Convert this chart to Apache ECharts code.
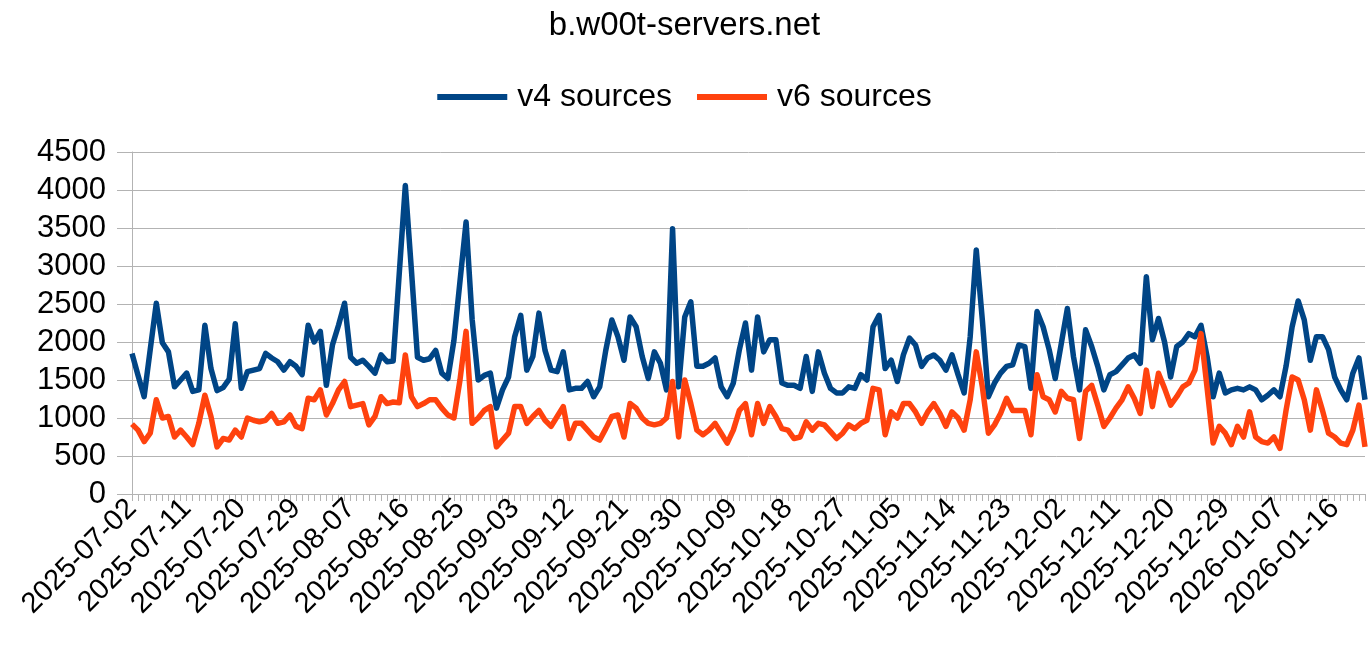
<!DOCTYPE html>
<html>
<head>
<meta charset="utf-8">
<title>b.w00t-servers.net</title>
<script src="https://cdn.jsdelivr.net/npm/echarts@6/dist/echarts.min.js"></script>
<style>
  html, body { margin: 0; padding: 0; background: #fff; }
  #chart { width: 1369px; height: 648px; }
</style>
</head>
<body>
<div id="chart"></div>
<script>
// daily sources seen by b.w00t-servers.net, starting 2025-07-02
const startDate = '2025-07-02';

const v4Sources = [
  1850, 1560, 1280, 1900, 2510, 1990, 1870, 1410, 1500, 1590,
  1350, 1370, 2220, 1650, 1360, 1400, 1510, 2240, 1390, 1610,
  1630, 1650, 1850, 1790, 1740, 1630, 1740, 1680, 1570, 2220,
  2000, 2140, 1430, 1960, 2220, 2510, 1800, 1720, 1760, 1680,
  1590, 1830, 1740, 1750, 2900, 4060, 2950, 1800, 1760, 1780,
  1890, 1590, 1520, 2020, 2800, 3580, 2300, 1500, 1560, 1590,
  1130, 1370, 1540, 2070, 2350, 1630, 1810, 2380, 1890, 1630,
  1610, 1870, 1370, 1390, 1390, 1480, 1280, 1410, 1890, 2290,
  2070, 1760, 2330, 2200, 1810, 1520, 1870, 1720, 1370, 3490,
  1410, 2330, 2530, 1680, 1680, 1720, 1790, 1410, 1280, 1460,
  1900, 2250, 1630, 2330, 1870, 2030, 2030, 1460, 1430, 1430,
  1390, 1810, 1350, 1870, 1590, 1390, 1330, 1330, 1410, 1390,
  1570, 1500, 2200, 2350, 1650, 1760, 1480, 1830, 2050, 1960,
  1680, 1790, 1830, 1760, 1630, 1830, 1570, 1330, 2070, 3210,
  2290, 1280, 1460, 1590, 1680, 1700, 1960, 1940, 1390, 2400,
  2200, 1900, 1520, 1980, 2440, 1810, 1370, 2160, 1940, 1680,
  1370, 1570, 1610, 1700, 1790, 1830, 1720, 2860, 2030, 2310,
  2000, 1540, 1940, 2000, 2110, 2070, 2220, 1810, 1280, 1590,
  1330, 1370, 1390, 1370, 1410, 1370, 1240, 1300, 1370, 1280,
  1680, 2200, 2540, 2290, 1760, 2070, 2070, 1900, 1540, 1370,
  1240, 1590, 1790, 1240
];

const v6Sources = [
  920, 840, 690, 800, 1240, 1000, 1020, 750, 840, 750,
  650, 930, 1300, 1020, 620, 730, 710, 840, 750, 1000,
  970, 950, 970, 1060, 930, 950, 1040, 890, 860, 1260,
  1240, 1370, 1040, 1190, 1370, 1480, 1150, 1170, 1190, 910,
  1020, 1280, 1190, 1210, 1200, 1830, 1280, 1150, 1190, 1240,
  1240, 1130, 1040, 1000, 1500, 2140, 930, 1000, 1100, 1150,
  620, 710, 800, 1150, 1150, 930, 1020, 1100, 970, 890,
  1020, 1150, 730, 930, 930, 840, 750, 710, 860, 1020,
  1040, 750, 1190, 1130, 1000, 930, 910, 930, 1000, 1480,
  750, 1500, 1190, 840, 780, 840, 930, 800, 670, 840,
  1100, 1190, 780, 1190, 930, 1150, 1020, 860, 840, 730,
  750, 950, 840, 930, 910, 820, 730, 800, 910, 860,
  930, 970, 1390, 1370, 780, 1080, 1000, 1190, 1190, 1080,
  930, 1080, 1190, 1060, 890, 1080, 1000, 840, 1240, 1870,
  1410, 800, 910, 1060, 1260, 1100, 1100, 1100, 780, 1570,
  1280, 1240, 1080, 1350, 1260, 1240, 730, 1350, 1430, 1170,
  890, 1000, 1130, 1240, 1410, 1260, 1060, 1630, 1150, 1590,
  1390, 1170, 1280, 1410, 1460, 1630, 2110, 1400, 670, 890,
  800, 650, 890, 750, 1080, 750, 690, 670, 750, 600,
  1100, 1540, 1500, 1240, 840, 1370, 1100, 800, 750, 670,
  650, 840, 1170, 620
];

const yTicks = { min: 0, max: 4500, step: 500 };

const categories = [];
(function () {
  const d = new Date(startDate + 'T00:00:00Z');
  for (let i = 0; i < v4Sources.length; i++) {
    categories.push(d.toISOString().slice(0, 10));
    d.setUTCDate(d.getUTCDate() + 1);
  }
})();

const chart = echarts.init(document.getElementById('chart'));
const font = '"Liberation Sans", Arial, sans-serif';

chart.setOption({
  animation: false,
  backgroundColor: '#fff',
  title: {
    text: 'b.w00t-servers.net',
    left: 'center',
    top: 4,
    textStyle: { fontFamily: font, fontSize: 33, fontWeight: 'normal', color: '#000' }
  },
  legend: {
    top: 76,
    left: 'center',
    itemWidth: 70,
    itemHeight: 6,
    itemGap: 25,
    icon: 'rect',
    textStyle: { fontFamily: font, fontSize: 32, color: '#000', padding: [0, 0, 0, 5] },
    data: ['v4 sources', 'v6 sources']
  },
  grid: { left: 132, right: 4, top: 152, bottom: 154, containLabel: false },
  xAxis: {
    type: 'category',
    data: categories,
    boundaryGap: false,
    axisLine: { lineStyle: { color: '#b3b3b3', width: 1 } },
    axisTick: { show: true, interval: 0, length: 7, lineStyle: { color: '#b3b3b3' } },
    axisLabel: {
      interval: 8,
      rotate: 45,
      margin: 10,
      fontFamily: font,
      fontSize: 29,
      color: '#000'
    },
    splitLine: { show: false }
  },
  yAxis: {
    type: 'value',
    min: yTicks.min,
    max: yTicks.max,
    interval: yTicks.step,
    axisLine: { show: true, lineStyle: { color: '#b3b3b3' } },
    axisTick: { show: true, length: 15, lineStyle: { color: '#b3b3b3' } },
    axisLabel: {
      fontFamily: font,
      fontSize: 31,
      color: '#000',
      margin: 26,
      formatter: (v) => String(v)
    },
    splitLine: { lineStyle: { color: '#b3b3b3', width: 1 } }
  },
  series: [
    {
      name: 'v4 sources',
      type: 'line',
      data: v4Sources,
      showSymbol: false,
      symbol: 'none',
      color: '#004586',
      lineStyle: { width: 5.5, color: '#004586', join: 'round' }
    },
    {
      name: 'v6 sources',
      type: 'line',
      data: v6Sources,
      showSymbol: false,
      symbol: 'none',
      color: '#ff420e',
      lineStyle: { width: 5.5, color: '#ff420e', join: 'round' }
    }
  ]
});
</script>
</body>
</html>
